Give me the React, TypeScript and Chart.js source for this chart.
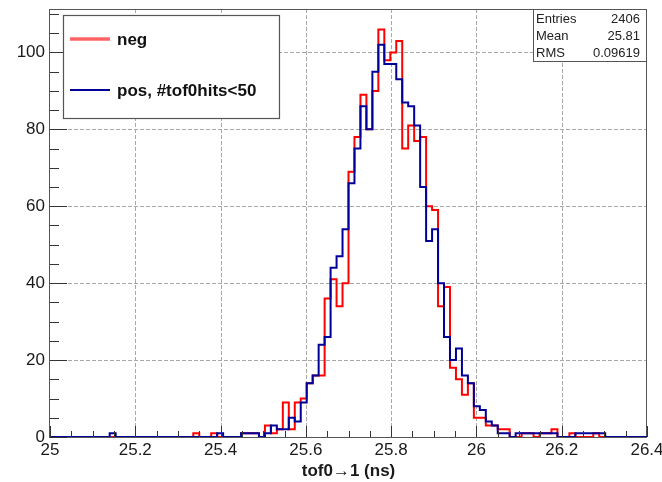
import React, { useEffect, useRef } from "react";
import { Chart, registerables } from "chart.js";

Chart.register(...registerables);

const xMin = 25;
const xMax = 26.4;
const yMax = 111.3;
const nBins = 100;

// counts per bin (bin width 0.014 ns, 100 bins from 25 to 26.4)
const negCounts = [
  0, 0, 0, 0, 0, 0, 0, 0, 0, 0,
  0, 0, 0, 0, 0, 0, 0, 0, 0, 0,
  0, 0, 0, 0, 0, 1, 0, 0, 1, 0,
  0, 0, 0, 1, 1, 1, 0, 3, 1, 2,
  9, 2, 9, 10, 14, 16, 16, 36, 41, 34,
  40, 69, 78, 89, 80, 90, 106, 98, 100, 103,
  75, 81, 77, 78, 60, 59, 34, 39, 18, 15,
  11, 14, 5, 5, 3, 3, 2, 2, 0, 0,
  1, 1, 0, 1, 1, 2, 0, 0, 1, 0,
  0, 0, 1, 0, 0, 0, 0, 0, 0, 0,
];
const posCounts = [
  0, 0, 0, 0, 0, 0, 0, 0, 0, 0,
  0, 1, 0, 0, 0, 0, 0, 0, 0, 0,
  0, 0, 0, 0, 0, 0, 0, 0, 0, 1,
  0, 0, 0, 1, 1, 1, 0, 1, 3, 2,
  2, 5, 4, 9, 14, 16, 24, 26, 44, 47,
  54, 66, 75, 86, 80, 95, 102, 97, 97, 93,
  87, 86, 81, 65, 51, 54, 40, 26, 20, 23,
  16, 14, 8, 7, 4, 3, 1, 1, 0, 1,
  1, 1, 1, 1, 1, 1, 0, 0, 0, 1,
  1, 1, 1, 1, 0, 0, 0, 0, 0, 0,
];

const xTickValues = [25, 25.2, 25.4, 25.6, 25.8, 26, 26.2, 26.4];
const xTickLabels = ["25", "25.2", "25.4", "25.6", "25.8", "26", "26.2", "26.4"];
const yTickValues = [0, 20, 40, 60, 80, 100];
const yTickLabels = ["0", "20", "40", "60", "80", "100"];
const xMinorStep = 0.05;
const yMinorStep = 5;

const seriesNames = ["neg", "pos, #tof0hits<50"];
const seriesColors = ["#ff0000", "#000099"];
const legendLineColors = ["#ff6464", "#000099"];
const statsNames = ["Entries", "Mean", "RMS"];
const statsValues = ["2406", "25.81", "0.09619"];
const xTitle = "tof0\u21921 (ns)";

const FONT = '"Liberation Sans", Arial, Helvetica, sans-serif';

function histPoints(counts: number[]) {
  const w = (xMax - xMin) / nBins;
  const pts = counts.map((c, i) => ({ x: xMin + i * w, y: c }));
  pts.push({ x: xMax, y: counts[counts.length - 1] });
  return pts;
}

const rootPlugin = {
  id: "rootStyle",
  beforeDraw(chart: any) {
    const { ctx, width, height } = chart;
    ctx.save();
    ctx.fillStyle = "#ffffff";
    ctx.fillRect(0, 0, width, height);
    ctx.restore();
  },
  beforeDatasetsDraw(chart: any) {
    const { ctx, chartArea: a, scales } = chart;
    const xs = scales.x;
    const ys = scales.y;
    ctx.save();
    ctx.lineWidth = 1;
    ctx.strokeStyle = "#a8a8a8";
    ctx.setLineDash([4, 2]);
    ctx.beginPath();
    for (const v of xTickValues) {
      if (v <= xMin + 1e-9 || v >= xMax - 1e-9) continue;
      const px = Math.round(xs.getPixelForValue(v)) + 0.5;
      ctx.moveTo(px, a.top);
      ctx.lineTo(px, a.bottom);
    }
    for (const v of yTickValues) {
      if (v <= 0) continue;
      const py = Math.round(ys.getPixelForValue(v)) + 0.5;
      ctx.moveTo(a.left, py);
      ctx.lineTo(a.right, py);
    }
    ctx.stroke();
    ctx.setLineDash([]);
    ctx.strokeStyle = "#555555";
    ctx.strokeRect(a.left - 0.5, a.top + 0.5, a.right - a.left, a.bottom - a.top);
    ctx.restore();
  },
  afterDatasetsDraw(chart: any) {
    const { ctx, chartArea: a, scales } = chart;
    const xs = scales.x;
    const ys = scales.y;
    ctx.save();
    // ticks
    ctx.strokeStyle = "#333333";
    ctx.lineWidth = 1;
    ctx.beginPath();
    const nx = Math.round((xMax - xMin) / xMinorStep);
    for (let i = 0; i <= nx; i++) {
      const v = xMin + i * xMinorStep;
      const len = i % 4 === 0 ? 11 : 6;
      const px = Math.round(xs.getPixelForValue(v)) + 0.5;
      ctx.moveTo(px, a.bottom);
      ctx.lineTo(px, a.bottom - len);
    }
    for (let v = 0; v <= yMax; v += yMinorStep) {
      const len = v % 20 === 0 ? 17 : 9;
      const py = Math.round(ys.getPixelForValue(v)) + 0.5;
      ctx.moveTo(a.left, py);
      ctx.lineTo(a.left + len, py);
    }
    ctx.stroke();

    // tick labels
    ctx.fillStyle = "#1a1a1a";
    ctx.font = `17px ${FONT}`;
    ctx.textAlign = "center";
    ctx.textBaseline = "middle";
    xTickValues.forEach((v, i) => {
      ctx.fillText(xTickLabels[i], xs.getPixelForValue(v), a.bottom + 13);
    });
    ctx.textAlign = "right";
    yTickValues.forEach((v, i) => {
      ctx.fillText(yTickLabels[i], a.left - 5, ys.getPixelForValue(v));
    });

    // axis title
    ctx.font = `bold 17px ${FONT}`;
    ctx.textAlign = "center";
    ctx.fillText(xTitle, (a.left + a.right) / 2, a.bottom + 34);

    // legend
    ctx.fillStyle = "#ffffff";
    ctx.fillRect(63.5, 15.5, 216, 103);
    ctx.strokeStyle = "#555555";
    ctx.lineWidth = 1.2;
    ctx.strokeRect(63.5, 15.5, 216, 103);
    const rowsY = [39, 90];
    const widths = [3.5, 2];
    seriesNames.forEach((name, i) => {
      ctx.strokeStyle = legendLineColors[i];
      ctx.lineWidth = widths[i];
      ctx.beginPath();
      ctx.moveTo(70, rowsY[i]);
      ctx.lineTo(110, rowsY[i]);
      ctx.stroke();
      ctx.fillStyle = "#111111";
      ctx.font = `bold 17px ${FONT}`;
      ctx.textAlign = "left";
      ctx.textBaseline = "middle";
      ctx.fillText(name, 117, rowsY[i] + 1);
    });

    // stats box
    ctx.fillStyle = "#ffffff";
    ctx.fillRect(533.5, 9.5, 113, 52);
    ctx.strokeStyle = "#555555";
    ctx.lineWidth = 1;
    ctx.strokeRect(533.5, 9.5, 113, 52);
    ctx.fillStyle = "#222222";
    ctx.font = `13px ${FONT}`;
    const sy = [19, 36.5, 53.5];
    statsNames.forEach((n, i) => {
      ctx.textAlign = "left";
      ctx.fillText(n, 536, sy[i]);
      ctx.textAlign = "right";
      ctx.fillText(statsValues[i], 640, sy[i]);
    });
    ctx.restore();
  },
};

export default function App() {
  const ref = useRef<HTMLCanvasElement>(null);
  useEffect(() => {
    document.body.style.margin = "0";
    const chart = new Chart(ref.current as HTMLCanvasElement, {
      type: "line",
      data: {
        datasets: [
          {
            label: seriesNames[0],
            data: histPoints(negCounts),
            borderColor: seriesColors[0],
            borderWidth: 2,
            stepped: "after",
            pointRadius: 0,
            fill: false,
            order: 1,
            borderJoinStyle: "miter",
          },
          {
            label: seriesNames[1],
            data: histPoints(posCounts),
            borderColor: seriesColors[1],
            borderWidth: 2,
            stepped: "after",
            pointRadius: 0,
            fill: false,
            order: 0,
            borderJoinStyle: "miter",
          },
        ],
      } as any,
      options: {
        responsive: false,
        animation: false,
        devicePixelRatio: 1,
        layout: { padding: { top: 9, right: 15, left: 0, bottom: 0 } },
        plugins: { legend: { display: false }, tooltip: { enabled: false } },
        scales: {
          x: {
            type: "linear",
            min: xMin,
            max: xMax,
            ticks: { display: false },
            grid: { display: false },
            border: { display: false },
            afterFit: (s: any) => {
              s.height = 45;
            },
          },
          y: {
            type: "linear",
            min: 0,
            max: yMax,
            ticks: { display: false },
            grid: { display: false },
            border: { display: false },
            afterFit: (s: any) => {
              s.width = 50;
            },
          },
        },
      } as any,
      plugins: [rootPlugin],
    });
    return () => chart.destroy();
  }, []);
  return (
    <div style={{ position: "absolute", left: 0, top: 0, width: 662, height: 482, background: "#fff" }}>
      <canvas ref={ref} width={662} height={482} style={{ display: "block", width: 662, height: 482 }} />
    </div>
  );
}
